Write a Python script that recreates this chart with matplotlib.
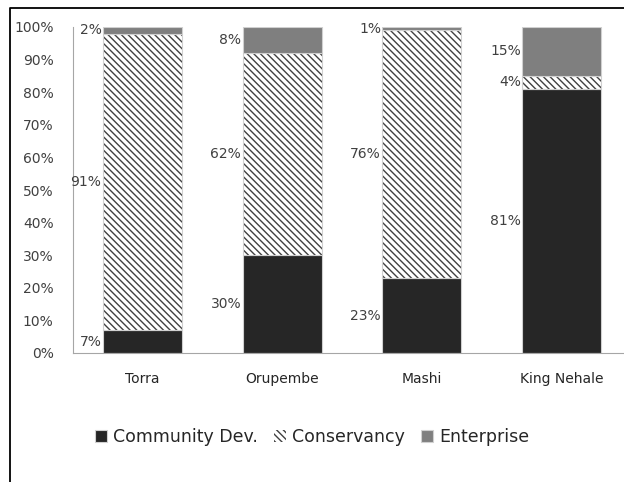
import matplotlib
matplotlib.use("Agg")
import numpy as np
from matplotlib import pyplot as plt
from matplotlib.lines import Line2D

sites = ["Torra", "Orupembe", "Mashi", "King Nehale"]
community = [7, 30, 23, 81]
conservancy = [91, 62, 76, 4]
enterprise = [2, 8, 1, 15]
yticks = [0, 10, 20, 30, 40, 50, 60, 70, 80, 90, 100]

plt.rcParams["font.family"] = ["DejaVu Sans"]
plt.rcParams["hatch.linewidth"] = 1.0


def add_labels(ax, x, bottoms, values, width):
    for xi, b, v in zip(x, bottoms, values):
        ax.text(xi - width / 2 - 0.01, b + v / 2, f"{v}%", ha="right", va="center",
                fontsize=10, color="#404040")


def main():
    fig = plt.figure(figsize=(6.24, 4.82), dpi=100)
    ax = fig.add_axes([73 / 624, 129 / 482, 551 / 624, 326 / 482])

    x = np.arange(len(sites))
    w = 0.565
    edge = "#d0d0d0"
    ax.bar(x, community, w, color="#262626", edgecolor=edge, linewidth=0.8,
           label="Community Dev.")
    # hatch takes the edge colour, so draw the hatch and the outline apart
    ax.bar(x, conservancy, w, bottom=community, color="white", hatch="\\" * 5,
           edgecolor="#404040", linewidth=0, label="Conservancy")
    ax.bar(x, conservancy, w, bottom=community, color="none",
           edgecolor=edge, linewidth=0.8)
    top = np.array(community) + np.array(conservancy)
    ax.bar(x, enterprise, w, bottom=top, color="#7f7f7f", edgecolor=edge,
           linewidth=0.8, label="Enterprise")

    add_labels(ax, x, [0] * 4, community, w)
    add_labels(ax, x, community, conservancy, w)
    add_labels(ax, x, top, enterprise, w)

    ax.set_xlim(-0.496, 3.446)
    ax.set_ylim(0, 100)
    ax.set_xticks(x)
    ax.set_xticklabels(sites, fontsize=10, color="#262626")
    ax.set_yticks(yticks)
    ax.set_yticklabels([f"{t}%" for t in yticks], fontsize=10, color="#404040")
    ax.tick_params(axis="x", length=0, pad=14)
    ax.tick_params(axis="y", length=0, pad=14)
    for s in ["top", "right"]:
        ax.spines[s].set_visible(False)
    ax.spines["left"].set_color("#a6a6a6")
    ax.spines["bottom"].set_color("#a6a6a6")

    fig.legend(loc="center", bbox_to_anchor=(0.5, 45 / 482), ncol=3, frameon=False,
               fontsize=12.5, handlelength=0.7, handleheight=0.7,
               handletextpad=0.35, columnspacing=0.9, labelcolor="#262626")

    fig.add_artist(Line2D([10 / 624, 10 / 624, 1.0], [0, 474 / 482, 474 / 482],
                          transform=fig.transFigure, color="black", linewidth=1.3))

    fig.savefig("out.png", dpi=100)


if __name__ == "__main__":
    main()
